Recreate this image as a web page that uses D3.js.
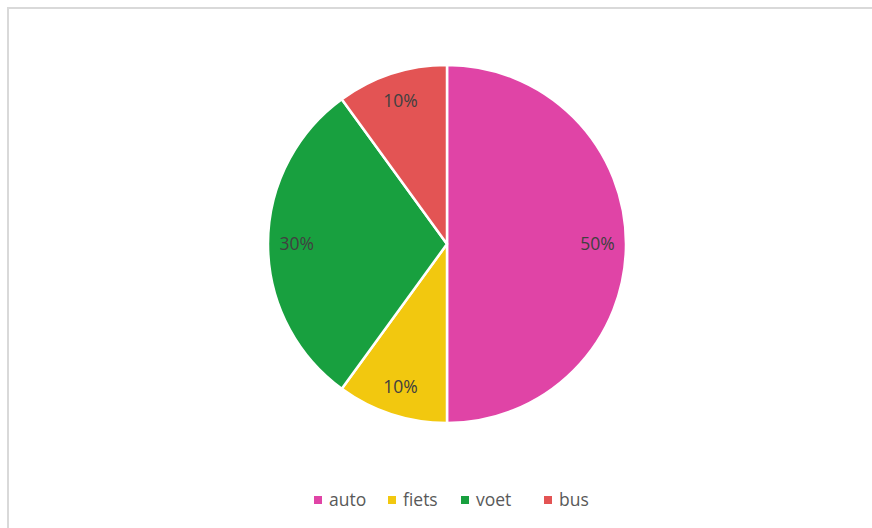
<!DOCTYPE html>
<html><head><meta charset="utf-8">
<script src="https://cdn.jsdelivr.net/npm/d3@7"></script>
<style>html,body{margin:0;padding:0;background:#fff;overflow:hidden}</style>
</head><body>
<svg id="c" width="872" height="528"></svg>
<script>
const categories = ["auto", "fiets", "voet", "bus"];
const values = [50, 10, 30, 10];
const labels = ["50%", "10%", "30%", "10%"];
const colors = ["#E044A6", "#F2C80F", "#18A03F", "#E35454"];

const svg = d3.select("#c");
const font = "'Open Sans', 'Segoe UI', sans-serif";

// chart border
svg.append("rect").attr("x", 8).attr("y", 8).attr("width", 900).attr("height", 600)
  .attr("fill", "#fff").attr("stroke", "#D9D9D9").attr("stroke-width", 2);

const cx = 447, cy = 244, r = 179;
const data = categories.map((c, i) => ({name: c, value: values[i], label: labels[i], color: colors[i]}));
const pie = d3.pie().value(d => d.value).sort(null);
const arc = d3.arc().innerRadius(0).outerRadius(r);
const labelArc = d3.arc().innerRadius(r * 0.84).outerRadius(r * 0.84);

const g = svg.append("g").attr("transform", `translate(${cx},${cy})`);
const arcs = pie(data);
g.selectAll("path").data(arcs).enter().append("path")
  .attr("d", arc).attr("fill", d => d.data.color)
  .attr("stroke", "#fff").attr("stroke-width", 2.5).attr("stroke-linejoin", "round");

g.selectAll("text").data(arcs).enter().append("text")
  .attr("transform", d => `translate(${labelArc.centroid(d)})`)
  .attr("text-anchor", "middle").attr("dy", "0.35em")
  .attr("font-family", font).attr("font-size", 17.5).attr("fill", "#404040")
  .text(d => d.data.label);

// legend
const legendX = [314, 388, 461, 544];
const lg = svg.append("g");
data.forEach((d, i) => {
  lg.append("rect").attr("x", legendX[i]).attr("y", 496).attr("width", 8).attr("height", 8).attr("fill", d.color);
  lg.append("text").attr("x", legendX[i] + 15).attr("y", 500).attr("dy", "0.35em")
    .attr("font-family", font).attr("font-size", 17.5).attr("fill", "#595959").text(d.name);
});
</script>
</body></html>
